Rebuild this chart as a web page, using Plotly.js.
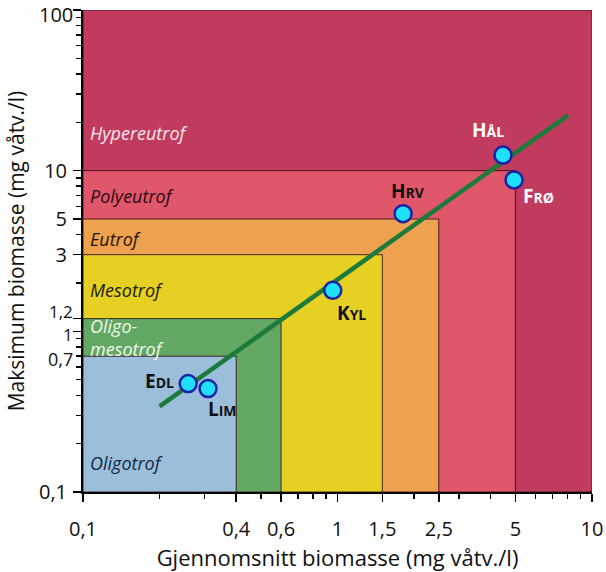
<!DOCTYPE html>
<html><head><meta charset="utf-8">
<script src="https://cdn.plot.ly/plotly-3.0.1.min.js"></script>
<style>body{margin:0;background:#fff}#c{width:606px;height:572px}</style>
</head><body><div id="c"></div>
<script>
// Trophic classes: upper bounds (x = mean biomass, y = max biomass)
var classNames = ['Hypereutrof','Polyeutrof','Eutrof','Mesotrof','Oligo-<br>mesotrof','Oligotrof'];
var classXmax = [10, 5, 2.5, 1.5, 0.6, 0.4];
var classYmax = [100, 10, 5, 3, 1.2, 0.7];
var classColors = ['#C13B5E','#E0566B','#EEA24F','#E6D024','#63A862','#9BBFDA'];
var classTextColors = ['#F6E6EE','#2A0A10','#2A1205','#20200A','#F0F8EC','#0F2A45'];
var classLabelY = [17.1, 6.97, 3.73, 1.8, 0.91, 0.151];

// Lakes
var lakeNames = ['E<span style="font-size:14px">DL</span>','L<span style="font-size:14px">IM</span>','K<span style="font-size:14px">YL</span>','H<span style="font-size:14px">RV</span>','H<span style="font-size:14px">ÅL</span>','F<span style="font-size:14px">RØ</span>'];
var lakeX = [0.259, 0.31, 0.958, 1.81, 4.47, 4.94];
var lakeY = [0.473, 0.44, 1.80, 5.40, 12.5, 8.76];
var lakeLabelColor = ['#111','#111','#111','#111','#fff','#fff'];

// Regression line
var lineX = [0.2, 8.05];
var lineY = [0.341, 22.1];

// Tick labels
var xTickVals = [0.1, 0.4, 0.6, 1, 1.5, 2.5, 5, 10];
var xTickText = ['0,1','0,4','0,6','1','1,5','2,5','5','10'];
var yTickVals = [0.1, 0.7, 1, 1.2, 3, 5, 10, 100];
var yTickText = ['0,1','0,7','1','1,2','3','5','10','100'];

function logMinor(lo, hi){var v=[];for(var d=lo;d<hi;d*=10){for(var k=2;k<=9;k++){v.push(+(k*d).toPrecision(3));}}return v;}

var tickFont = {family:'Open Sans, Lato, sans-serif', size:20, color:'#111'};
var titleFont = {family:'Open Sans, Lato, sans-serif', size:22, color:'#111'};

var shapes = [];
for (var i=0;i<classNames.length;i++){
  shapes.push({type:'rect', xref:'x', yref:'y', x0:0.1, x1:classXmax[i], y0:0.1, y1:classYmax[i],
    fillcolor:classColors[i], line:{color:'rgba(50,10,15,0.85)', width:1}, layer:'below'});
}

var offsets = [[-12,3,'right'],[14,-20,'center'],[19,-23,'center'],[5,23,'center'],[-15,25,'center'],[24,-16,'center']];
var annotations = [];
for (var i=0;i<classNames.length;i++){
  annotations.push({x:Math.log10(0.1), y:Math.log10(classLabelY[i]), xref:'x', yref:'y', xanchor:'left', yanchor:'middle',
    xshift:5, text:'<i>'+classNames[i]+'</i>', showarrow:false, align:'left',
    font:{family:'Open Sans, Lato, sans-serif', size:18, color:classTextColors[i]}});
}
for (var i=0;i<lakeNames.length;i++){
  var o = offsets[i];
  annotations.push({x:Math.log10(lakeX[i]), y:Math.log10(lakeY[i]), xref:'x', yref:'y', xanchor:o[2], yanchor:'middle',
    xshift:o[0], yshift:o[1], text:'<b>'+lakeNames[i]+'</b>', showarrow:false,
    font:{family:'Open Sans, Lato, sans-serif', size:19, color:lakeLabelColor[i]}});
}
// Crowded / edge y tick labels are drawn as nudged annotations
var nudge = {0.7:[-3,18,'middle'], 1:[-3,17,'middle'], 1.2:[7,17,'middle'], 100:[10,20,'top']};
var yShiftedText = [];
for (var i=0;i<yTickVals.length;i++){
  var v = yTickVals[i];
  if (nudge[v] !== undefined){
    annotations.push({xref:'paper', x:0, yref:'y', y:Math.log10(v), xanchor:'right', yanchor:nudge[v][2],
      xshift:-9, yshift:nudge[v][0], text:yTickText[i], showarrow:false, borderpad:0,
      font:{family:tickFont.family, size:nudge[v][1], color:tickFont.color}});
    yShiftedText.push('');
  } else {
    yShiftedText.push(yTickText[i]);
  }
}

var traces = [
  {x:lineX, y:lineY, mode:'lines', line:{color:'#1C7A3A', width:4.5}, hoverinfo:'skip'},
  {x:lakeX, y:lakeY, mode:'markers', marker:{size:17, color:'#1EE0F8', line:{color:'#1A20A8', width:2.5}}}
];

var layout = {
  width:606, height:572, showlegend:false,
  paper_bgcolor:'#fff', plot_bgcolor:'#fff',
  margin:{l:83, r:14, t:10, b:80},
  xaxis:{type:'log', range:[-1,1], tickmode:'array', tickvals:xTickVals, ticktext:xTickText,
    ticks:'outside', ticklen:8, tickwidth:1.5, tickcolor:'#000', showgrid:false, zeroline:false,
    showline:true, linecolor:'#000', linewidth:2, tickfont:tickFont, ticklabelstandoff:10, ticklabeloverflow:'allow',
    minor:{ticks:'outside', ticklen:5, tickwidth:1.5, tickcolor:'#000', tickmode:'array', tickvals:logMinor(0.1,10), showgrid:false},
    title:{text:'Gjennomsnitt biomasse (mg våtv./l)', font:titleFont, standoff:4}},
  yaxis:{type:'log', range:[-1,2], tickmode:'array', tickvals:yTickVals, ticktext:yShiftedText,
    ticks:'outside', ticklen:8, tickwidth:1.5, tickcolor:'#000', showgrid:false, zeroline:false,
    showline:true, linecolor:'#000', linewidth:2, tickfont:tickFont, ticklabelstandoff:2, ticklabeloverflow:'allow',
    minor:{ticks:'outside', ticklen:5, tickwidth:1.5, tickcolor:'#000', tickmode:'array', tickvals:logMinor(0.1,100), showgrid:false},
    title:{text:'Maksimum biomasse (mg våtv./l)', font:{family:titleFont.family, size:21, color:'#111'}, standoff:9}},
  shapes:shapes, annotations:annotations
};
Plotly.newPlot('c', traces, layout, {displayModeBar:false, staticPlot:true});
</script></body></html>
